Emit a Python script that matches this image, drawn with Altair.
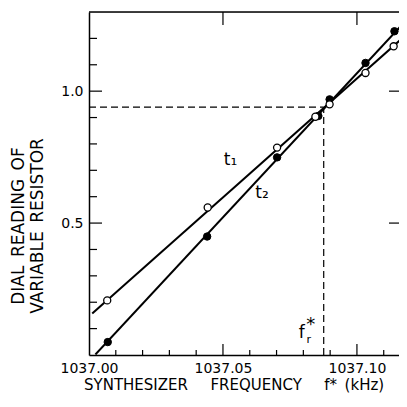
import altair as alt
import pandas as pd

# ---- data ----
t1_freq = [1037.0068, 1037.0443, 1037.0702, 1037.0845, 1037.0898, 1037.1032, 1037.1137]
t1_dial = [0.207, 0.559, 0.786, 0.903, 0.950, 1.069, 1.170]
t2_freq = [1037.0070, 1037.0441, 1037.0702, 1037.0856, 1037.0898, 1037.1032, 1037.1140]
t2_dial = [0.049, 0.449, 0.749, 0.906, 0.969, 1.107, 1.227]

# hand-drawn straight lines (end points)
t1_line_freq = [1037.0012, 1037.1187]
t1_line_dial = [0.157, 1.217]
t2_line_freq = [1037.0024, 1037.1187]
t2_line_dial = [0.002, 1.272]

# resonance marker f_r*
fr_freq = 1037.0876
fr_dial = 0.9395

x_labels = [1037.00, 1037.05, 1037.10]
y_labels = [0.5, 1.0]
x_minor = [1037.01, 1037.02, 1037.03, 1037.04, 1037.06, 1037.07, 1037.08, 1037.09, 1037.11]
x_major = [1037.05, 1037.10]
y_minor = [0.1, 0.2, 0.3, 0.4, 0.6, 0.7, 0.8, 0.9, 1.1, 1.2]
y_major = [0.5, 1.0]

labels_text = ["t\u2081", "t\u2082"]
labels_freq = [1037.0528, 1037.0646]
labels_dial = [0.739, 0.613]

x_title = "SYNTHESIZER\u2003\u2002FREQUENCY\u2003\u2002f*\u2002(kHz)"
y_title = ["DIAL\u2002READING\u2002OF", "VARIABLE\u2002RESISTOR"]

# ---- layout ----
W, H = 310, 343
FONT = "DejaVu Sans"
xs = alt.Scale(domain=[1037.0, 1037.1157], nice=False, zero=False)
ys = alt.Scale(domain=[0, 1.3], nice=False, zero=False)

x_axis = alt.Axis(values=x_labels, format=".2f", title=None, ticks=False, tickSize=0,
                  grid=False, domain=True, labels=True, domainColor="black", domainWidth=1.5,
                  labelFont=FONT, labelFontSize=14, labelPadding=6, labelColor="black",
                  labelFlush=False, labelOverlap=False)
y_axis = alt.Axis(values=y_labels, format=".1f", title=None, ticks=False, tickSize=0,
                  grid=False, domain=True, labels=True, domainColor="black", domainWidth=1.5,
                  labelFont=FONT, labelFontSize=14, labelPadding=6, labelColor="black",
                  labelOverlap=False)

def X(field):
    return alt.X(field, type="quantitative", scale=xs, axis=x_axis)

def Y(field):
    return alt.Y(field, type="quantitative", scale=ys, axis=y_axis)

df_t1l = pd.DataFrame({"f": t1_line_freq, "d": t1_line_dial})
df_t2l = pd.DataFrame({"f": t2_line_freq, "d": t2_line_dial})
df_t1 = pd.DataFrame({"f": t1_freq, "d": t1_dial})
df_t2 = pd.DataFrame({"f": t2_freq, "d": t2_dial})

line1 = alt.Chart(df_t1l).mark_line(color="black", strokeWidth=2, clip=True).encode(
    x=X("f"), y=Y("d"))
line2 = alt.Chart(df_t2l).mark_line(color="black", strokeWidth=2, clip=True).encode(
    x=X("f"), y=Y("d"))

pts2 = alt.Chart(df_t2).mark_circle(fill="black", stroke="black", strokeWidth=1, size=55,
                                    opacity=1).encode(x=X("f"), y=Y("d"))
pts1 = alt.Chart(df_t1).mark_circle(fill="white", stroke="black", strokeWidth=1.3, size=50,
                                    opacity=1).encode(x=X("f"), y=Y("d"))

df_fr = pd.DataFrame({"f0": [1037.0], "f": [fr_freq], "d0": [0.0], "d": [fr_dial]})
hdash = alt.Chart(df_fr).mark_rule(color="black", strokeWidth=1.2, strokeDash=[7, 4]).encode(
    x=X("f0"), x2="f", y=Y("d"))
vdash = alt.Chart(df_fr).mark_rule(color="black", strokeWidth=1.2, strokeDash=[7, 4]).encode(
    x=X("f"), y=Y("d0"), y2="d")

# inward ticks
def xticks(vals, top, length):
    df = pd.DataFrame({"v": vals})
    if top:
        y1, y2 = 0, length
    else:
        y1, y2 = H, H - length
    return alt.Chart(df).mark_rule(color="black", strokeWidth=1.2).encode(
        x=X("v"), y=alt.value(y1), y2=alt.value(y2))

def yticks(vals, right, length):
    df = pd.DataFrame({"v": vals})
    if right:
        x1, x2 = W, W - length
    else:
        x1, x2 = 0, length
    return alt.Chart(df).mark_rule(color="black", strokeWidth=1.2).encode(
        y=Y("v"), x=alt.value(x1), x2=alt.value(x2))

top_border = alt.Chart(pd.DataFrame({"a": [0]})).mark_rule(color="black", strokeWidth=1.5).encode(
    x=alt.value(0), x2=alt.value(W), y=alt.value(0))

df_lab = pd.DataFrame({"t": labels_text, "f": labels_freq, "d": labels_dial})
lab = alt.Chart(df_lab).mark_text(font=FONT, fontSize=17, color="black").encode(
    x=X("f"), y=Y("d"), text="t:N")

df_frl = pd.DataFrame({"f": [1037.0794], "d": [0.084]})
fr_f = alt.Chart(df_frl).mark_text(font=FONT, fontSize=17, color="black", text="f").encode(
    x=X("f"), y=Y("d"))
fr_r = alt.Chart(df_frl).mark_text(font=FONT, fontSize=11, color="black", text="r",
                                   dx=7, dy=7).encode(x=X("f"), y=Y("d"))
fr_s = alt.Chart(df_frl).mark_text(font=FONT, fontSize=18, color="black", text="*",
                                   dx=9, dy=-8).encode(x=X("f"), y=Y("d"))

xt = alt.Chart(pd.DataFrame({"t": [x_title]})).mark_text(
    font=FONT, fontSize=15, color="black", align="left", baseline="alphabetic").encode(
    text="t:N", x=alt.value(-5), y=alt.value(H + 35))
yt1 = alt.Chart(pd.DataFrame({"t": [y_title[0]]})).mark_text(
    font=FONT, fontSize=17, color="black", angle=270, baseline="middle").encode(
    text="t:N", x=alt.value(-70), y=alt.value(214))
yt2 = alt.Chart(pd.DataFrame({"t": [y_title[1]]})).mark_text(
    font=FONT, fontSize=17, color="black", angle=270, baseline="middle").encode(
    text="t:N", x=alt.value(-51), y=alt.value(214))

chart = alt.layer(
    line1, line2, hdash, vdash, pts2, pts1,
    xticks(x_minor, False, 5), xticks(x_major, False, 11), xticks(x_major, True, 13),
    yticks(y_minor, False, 8), yticks(y_major, False, 13), yticks(y_major, True, 10),
    top_border, lab, fr_f, fr_r, fr_s, xt, yt1, yt2,
).properties(
    width=W, height=H,
    padding={"left": 81, "top": 4, "right": 0, "bottom": 38},
    autosize=alt.AutoSizeParams(type="none"),
).configure_view(stroke=None).configure(background="white")

chart.save("out.html", embed_options={"renderer": "svg", "actions": False})
